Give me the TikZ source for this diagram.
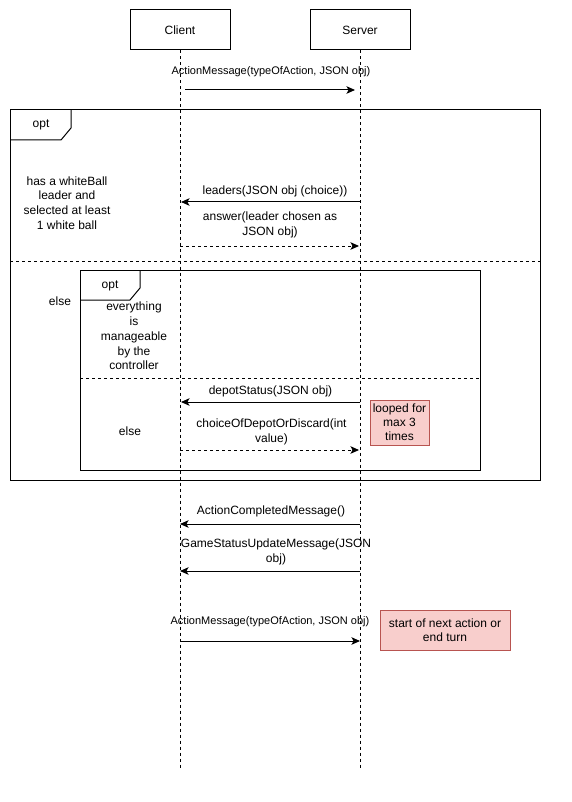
\documentclass[tikz,border=0pt]{standalone}
\usepackage{fontspec}
\setmainfont{Liberation Sans}
\usetikzlibrary{arrows.meta}
\definecolor{notefill}{HTML}{F8CECC}
\definecolor{noteline}{HTML}{B85450}
\begin{document}
\begin{tikzpicture}[x=1pt,y=-1pt,
  font=\fontsize{12}{14.8}\selectfont,
  line width=1pt,
  actor/.style={draw, minimum width=100pt, minimum height=40pt, fill=white, inner sep=0pt},
  lifeline/.style={dash pattern=on 3pt off 3pt},
  msg/.style={-{Stealth[length=8.5pt,width=7.5pt,inset=2pt]}},
  reply/.style={msg, dash pattern=on 3pt off 3pt},
  sep/.style={dash pattern=on 3pt off 3pt},
  lbl/.style={align=center, inner sep=0pt},
  small/.style={font=\fontsize{11}{13.5}\selectfont},
  note/.style={draw=noteline, fill=notefill, align=center, inner sep=0pt,
    font=\fontsize{12}{13.8}\selectfont},
]
\useasboundingbox (0,0) rectangle (572,802);

% participants
\node[actor] (client) at (180,30) {Client};
\node[actor] (server) at (360,30) {Server};
\coordinate (clientEnd) at (180,768);
\coordinate (serverEnd) at (360,770);
\draw[lifeline] (client.south) -- (clientEnd);
\draw[lifeline] (server.south) -- (serverEnd);

% outer opt fragment
\draw (10,110) rectangle (540,480);
\draw (10,140) -- (61,140) -- (71,128) -- (71,110);
\node[lbl] (optA) at (41,125) {opt};
\draw[sep] (10,261) -- (540,261);
\node[lbl] (condA) at (67,203) {has a whiteBall\\leader and\\selected at least\\1 white ball};
\node[lbl] (elseA) at (60,301) {else};

% inner opt fragment
\draw (80,270) rectangle (480,470);
\draw (80,300) -- (130,300) -- (140,288) -- (140,270);
\node[lbl] (optB) at (110,286) {opt};
\draw[sep] (80,378) -- (480,378);
\node[lbl] (condB) at (134,336) {everything\\is\\manageable\\by the\\controller};
\node[lbl] (elseB) at (130,431) {else};

% messages: end points on the lifelines
\coordinate (m1s) at (185,90);   \coordinate (m1e) at (355,90);
\coordinate (m2s) at (360,202);  \coordinate (m2e) at (181,202);
\coordinate (m3s) at (180,246);  \coordinate (m3e) at (359,246);
\coordinate (m4s) at (360,402);  \coordinate (m4e) at (181,402);
\coordinate (m5s) at (180,450);  \coordinate (m5e) at (359,450);
\coordinate (m6s) at (360,524);  \coordinate (m6e) at (180,524);
\coordinate (m7s) at (360,571);  \coordinate (m7e) at (180,571);
\coordinate (m8s) at (180,641);  \coordinate (m8e) at (360,641);

\draw[msg] (m1s) -- (m1e);
\node[lbl, small] (l1) at (271,72) {ActionMessage(typeOfAction, JSON obj)};

\draw[msg] (m2s) -- (m2e);
\node[lbl] (l2) at (275,191) {leaders(JSON obj (choice))};

\draw[reply] (m3s) -- (m3e);
\node[lbl] (l3) at (270,225) {answer(leader chosen as\\JSON obj)};

\draw[msg] (m4s) -- (m4e);
\node[lbl] (l4) at (270.5,391) {depotStatus(JSON obj)};

\draw[reply] (m5s) -- (m5e);
\node[lbl] (l5) at (271.5,431.5) {choiceOfDepotOrDiscard(int\\value)};

\draw[msg] (m6s) -- (m6e);
\node[lbl] (l6) at (271,511.5) {ActionCompletedMessage()};

\draw[msg] (m7s) -- (m7e);
\node[lbl] (l7) at (276,551.5) {GameStatusUpdateMessage(JSON\\obj)};

\draw[msg] (m8s) -- (m8e);
\node[lbl, small] (l8) at (270,621.5) {ActionMessage(typeOfAction, JSON obj)};

% notes
\node[note, minimum width=59pt, minimum height=45pt] (loopNote) at (399.5,422.5) {looped for\\max 3\\times};
\node[note, minimum width=130pt, minimum height=40pt] (nextNote) at (445,630) {start of next action or\\end turn};
\end{tikzpicture}
\end{document}
